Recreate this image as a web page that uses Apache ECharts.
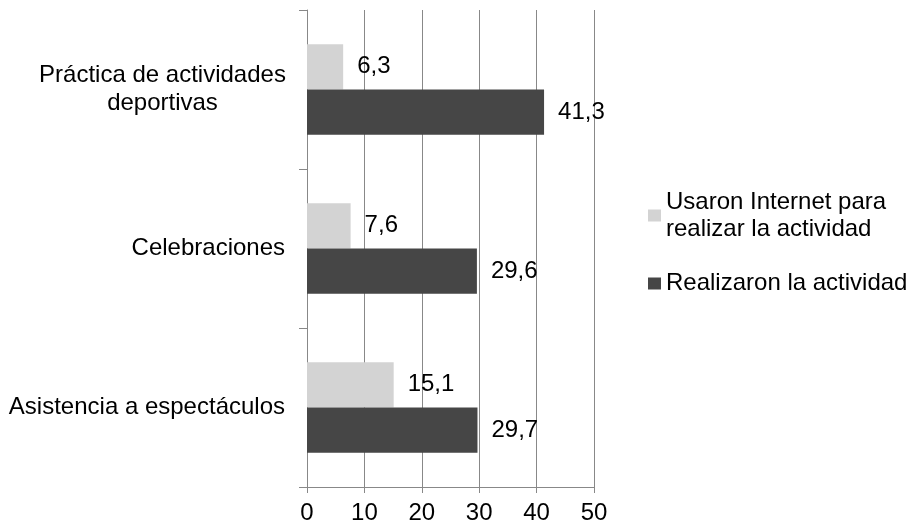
<!DOCTYPE html>
<html>
<head>
<meta charset="utf-8">
<script src="https://cdn.jsdelivr.net/npm/echarts@6/dist/echarts.min.js"></script>
<style>
  html, body { margin: 0; padding: 0; background: #ffffff; }
  #chart { width: 909px; height: 530px; }
</style>
</head>
<body>
<div id="chart"></div>
<script>
// Activities (top to bottom)
const categories = [
  'Práctica de actividades\ndeportivas',
  'Celebraciones',
  'Asistencia a espectáculos'
];
const seriesNames = [
  'Usaron Internet para\nrealizar la actividad',
  'Realizaron la actividad'
];
const usaronInternet = [6.3, 7.6, 15.1];
const realizaron = [41.3, 29.6, 29.7];
const xTicks = [0, 10, 20, 30, 40, 50];

const FONT = 'Liberation Sans, Arial, sans-serif';
const fmtComma = v => v.toFixed(1).replace('.', ',');

const chart = echarts.init(document.getElementById('chart'), null, { renderer: 'canvas' });

const valueLabel = {
  show: true,
  position: 'right',
  distance: 14,
  color: '#000',
  fontFamily: FONT,
  fontSize: 24,
  formatter: p => fmtComma(p.value)
};

chart.setOption({
  animation: false,
  backgroundColor: '#ffffff',
  grid: { left: 307, right: 315, top: 10, bottom: 43, containLabel: false },
  legend: {
    orient: 'vertical',
    left: 648,
    top: 175,
    padding: 0,
    itemWidth: 13,
    itemHeight: 12,
    itemGap: 14,
    icon: 'rect',
    selectedMode: false,
    textStyle: { fontFamily: FONT, fontSize: 24, color: '#000', lineHeight: 27 },
    data: [
      { name: seriesNames[0], textStyle: { padding: [27, 0, 0, 0] } },
      { name: seriesNames[1] }
    ]
  },
  xAxis: {
    type: 'value',
    min: xTicks[0],
    max: xTicks[xTicks.length - 1],
    interval: 10,
    axisLine: { show: true, lineStyle: { color: '#888', width: 1 } },
    axisTick: { show: true, length: 6, lineStyle: { color: '#888' } },
    splitLine: { show: true, lineStyle: { color: '#888', width: 1 } },
    axisLabel: { margin: 14, color: '#000', fontFamily: FONT, fontSize: 24 }
  },
  yAxis: {
    type: 'category',
    inverse: true,
    data: categories,
    axisLine: { show: true, lineStyle: { color: '#888', width: 1 } },
    axisTick: { show: true, length: 8, alignWithLabel: false, lineStyle: { color: '#888' } },
    axisLabel: {
      margin: 22,
      color: '#000',
      fontFamily: FONT,
      fontSize: 24,
      formatter: v => {
        const lines = v.split('\n');
        if (lines.length === 1) return v;
        return lines.map(l => '{c|' + l + '}').join('\n');
      },
      rich: {
        c: { width: 245, align: 'center', lineHeight: 28, fontSize: 24, fontFamily: FONT, color: '#000' }
      }
    }
  },
  series: [
    {
      name: seriesNames[0],
      type: 'bar',
      data: usaronInternet,
      barGap: '0%',
      barCategoryGap: '43%',
      itemStyle: { color: '#d3d3d3' },
      label: valueLabel
    },
    {
      name: seriesNames[1],
      type: 'bar',
      data: realizaron,
      barGap: '0%',
      barCategoryGap: '43%',
      itemStyle: { color: '#464646' },
      label: valueLabel
    }
  ]
});
</script>
</body>
</html>
